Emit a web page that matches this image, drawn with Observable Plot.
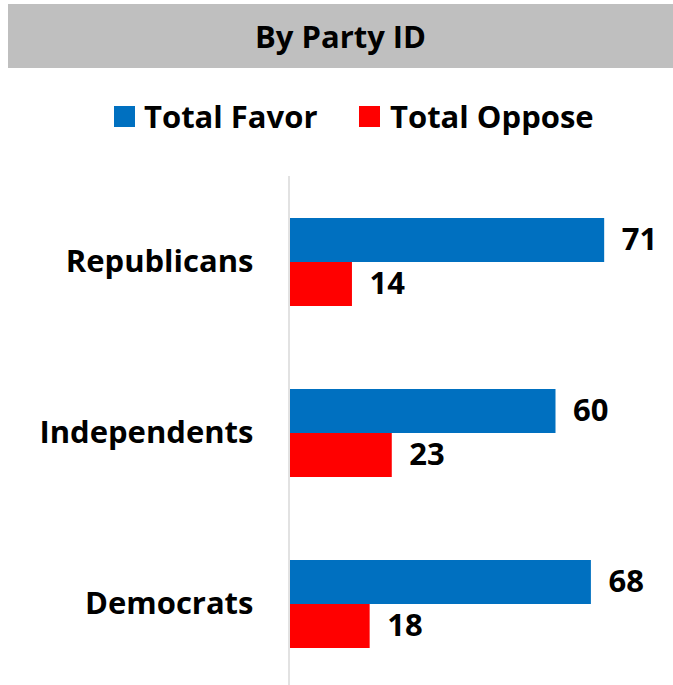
<!DOCTYPE html>
<html>
<head>
<meta charset="utf-8">
<script src="https://cdn.jsdelivr.net/npm/d3@7"></script>
<script src="https://cdn.jsdelivr.net/npm/@observablehq/plot@0.6"></script>
<style>
  html, body { margin: 0; padding: 0; background: #fff; overflow: hidden; }
  body { width: 673px; height: 685px; position: relative; font-family: "Open Sans", Lato, sans-serif; font-weight: bold; color: #000; }
  #title { position: absolute; left: 8px; top: 4px; width: 665px; height: 64px; background: #bfbfbf;
           font-size: 31px; line-height: 64px; text-align: center; }
  .sw { position: absolute; width: 21px; height: 21px; top: 106px; }
  .lt { position: absolute; top: 96px; font-size: 31px; line-height: 40px; white-space: nowrap; }
  #chart { position: absolute; left: 0; top: 169px; }
</style>
</head>
<body>
<div id="title"></div>
<div id="legend"></div>
<div id="chart"></div>
<script>
const titleText = "By Party ID";
const categories = ["Republicans", "Independents", "Democrats"];
const series = ["Total Favor", "Total Oppose"];
const favor = [71, 60, 68];
const oppose = [14, 23, 18];
const colors = ["#0070C0", "#FF0000"];

document.getElementById("title").textContent = titleText;

// legend
const legend = document.getElementById("legend");
const legendPos = [[114, 144], [359, 390]];
series.forEach((s, i) => {
  const sw = document.createElement("div");
  sw.className = "sw";
  sw.style.left = legendPos[i][0] + "px";
  sw.style.background = colors[i];
  legend.appendChild(sw);
  const t = document.createElement("div");
  t.className = "lt";
  t.style.left = legendPos[i][1] + "px";
  t.textContent = s;
  legend.appendChild(t);
});

const data = categories.flatMap((c, i) => [
  {category: c, series: series[0], value: favor[i]},
  {category: c, series: series[1], value: oppose[i]}
]);

const chart = Plot.plot({
  width: 673,
  height: 520,
  marginLeft: 290,
  marginRight: 29,
  marginTop: 7,
  marginBottom: 0,
  style: {fontFamily: "'Open Sans', Lato, sans-serif", fontSize: "31px", fontWeight: "bold", color: "#000", background: "transparent", overflow: "visible"},
  x: {domain: [0, 80], axis: null},
  y: {domain: series, paddingInner: 0, paddingOuter: 0.94, axis: null},
  fy: {domain: categories, padding: 0, label: null, axis: "left", tickSize: 0, tickPadding: 37},
  color: {domain: series, range: colors},
  marks: [
    Plot.barX(data, {fy: "category", y: "series", x: "value", fill: "series"}),
    Plot.text(data, {fy: "category", y: "series", x: "value", text: d => String(d.value),
      textAnchor: "start", dx: 17, fill: "#000", fontSize: 31, fontWeight: "bold"}),
    Plot.ruleX([0], {stroke: "#d9d9d9", strokeWidth: 1.5, dx: -1.5})
  ]
});
document.getElementById("chart").appendChild(chart);
</script>
</body>
</html>
